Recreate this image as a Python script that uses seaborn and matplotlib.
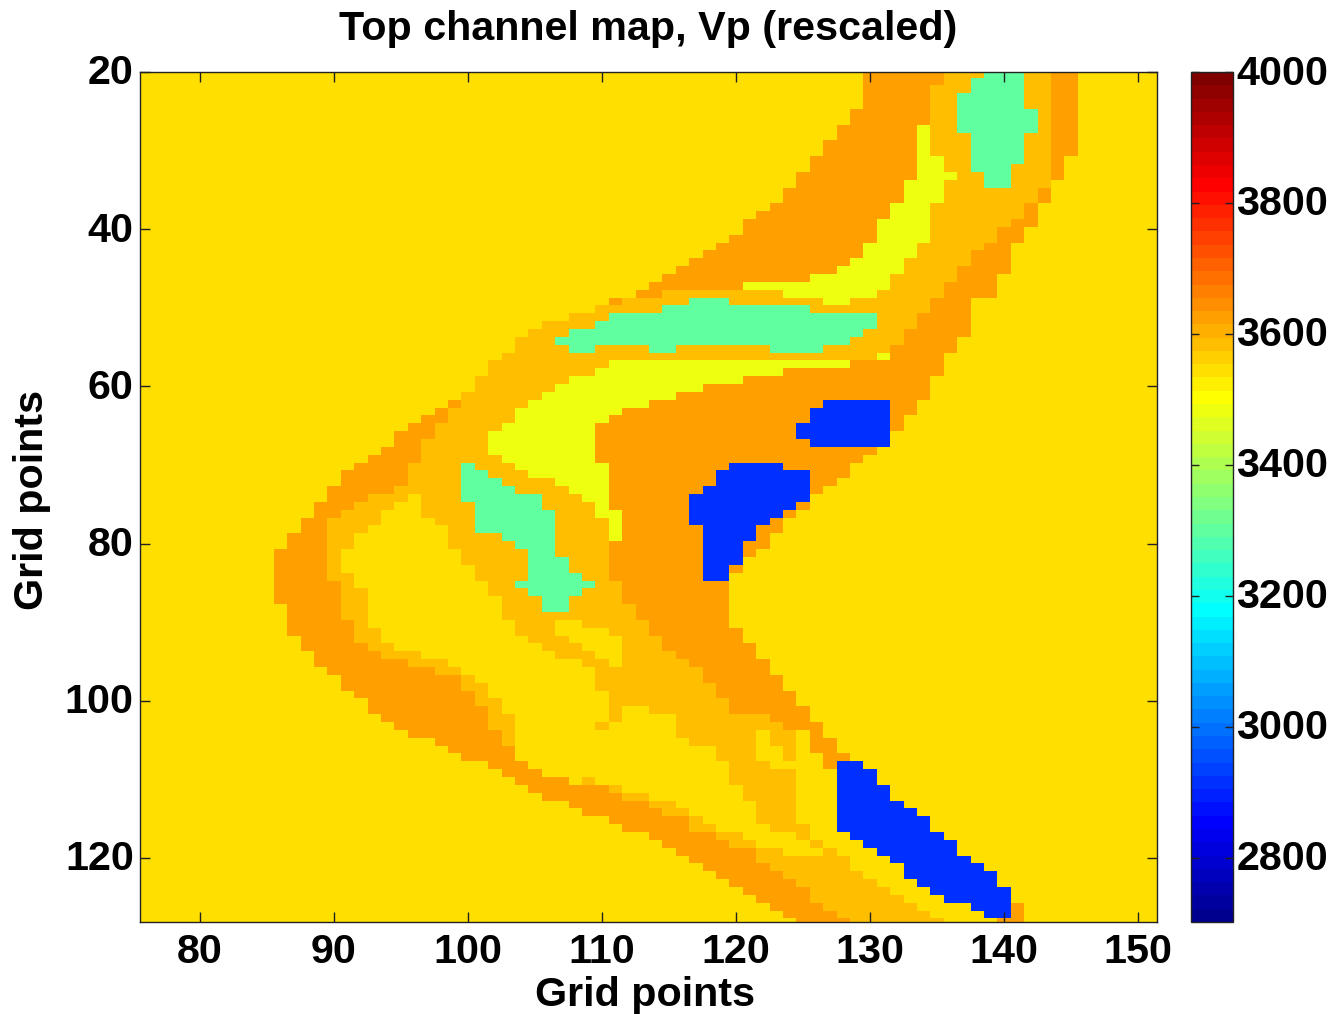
import numpy as np
import pandas as pd
import matplotlib
matplotlib.use("Agg")
import matplotlib.pyplot as plt
from matplotlib.colors import ListedColormap
from matplotlib.transforms import ScaledTranslation
import seaborn as sns

TITLE = "Top channel map, Vp (rescaled)"
XLABEL = "Grid points"
YLABEL = "Grid points"
X_TICKS = [80, 90, 100, 110, 120, 130, 140, 150]
Y_TICKS = [20, 40, 60, 80, 100, 120]
CBAR_TICKS = [2800, 3000, 3200, 3400, 3600, 3800, 4000]
VMIN, VMAX = 2702, 4000

# velocity classes seen on the map
LEVELS = {"Y": 3545, "L": 3585, "O": 3625, "G": 3485, "T": 3305, "B": 2918}
FIRST_COL, LAST_COL = 76, 151
FIRST_ROW = 20

# each row, left to right: class + last column of that run; the rest of the row is background
ROW_RUNS = [
    "Y129 O135 L138 T141 L143 O145",
    "Y129 O135 L137 T141 L143 O145",
    "Y129 O134 L137 T141 L143 O145",
    "Y129 O134 L136 T141 L143 O145",
    "Y129 O134 L136 T141 L143 O145",
    "Y128 O134 L136 T142 L143 O145",
    "Y128 O134 L136 T142 L143 O145",
    "Y127 O133 G134 L136 T142 L143 O145",
    "Y127 O133 G134 L137 T141 L143 O145",
    "Y126 O133 G134 L137 T141 L143 O145",
    "Y126 O133 G134 L137 T141 L143 O145",
    "Y125 O133 G135 L137 T141 L143 O144",
    "Y125 O133 G135 L137 T140 L143 O144",
    "Y124 O133 G136 L138 T140 L143 O144",
    "Y124 O132 G135 L138 T140 L143",
    "Y123 O132 G135 L142 O143",
    "Y123 O132 G135 L142 O143",
    "Y122 O131 G134 L141 O142",
    "Y121 O131 G134 L141 O142",
    "Y120 O130 G134 L140 O142",
    "Y120 O130 G134 L139 O141",
    "Y119 O130 G134 L139 O141",
    "Y118 O129 G133 L138 O140",
    "Y117 O129 G133 L137 O140",
    "Y116 O128 G132 L137 O140",
    "Y115 O127 G132 L136 O140",
    "Y114 O125 G131 L136 O139",
    "Y113 O120 G131 L135 O139",
    "Y112 O114 L123 G130 L135 O139",
    "Y110 O111 L116 T119 L126 G128 L134 O137",
    "Y109 L114 T125 L134 O137",
    "Y107 L110 T130 L133 O137",
    "Y105 L109 T130 L133 O137",
    "Y104 L107 T129 L132 O137",
    "Y103 L106 T128 L132 O136",
    "Y103 L107 T109 L113 T115 L122 T126 L131 O136",
    "Y102 L130 G131 O135",
    "Y101 L110 G128 O135",
    "Y101 L109 G123 O135",
    "Y100 L107 G120 O134",
    "Y100 L106 G117 O134",
    "Y99 L105 G115 O134",
    "Y98 O99 L104 G113 O126 B131 O133",
    "Y97 O98 L103 G111 O125 B131 O133",
    "Y96 O98 L103 G110 O125 B131 O132",
    "Y95 O97 L102 G109 O124 B131 O132",
    "Y94 O97 L101 G109 O124 B131",
    "Y94 O96 L101 G109 O125 B131",
    "Y93 O96 L101 G109 O130",
    "Y92 O96 L102 G109 O129",
    "Y91 O95 L99 T100 L103 G110 O119 B123 O128",
    "Y90 O95 L99 T101 L104 G110 O118 B125 O128",
    "Y90 O95 L99 T102 L106 G110 O118 B125 O127",
    "Y89 O94 L99 T103 L107 G110 O117 B125 O126",
    "Y89 O92 L95 Y96 L99 T105 L108 G110 O116 B125",
    "Y88 O91 L94 Y96 L100 T105 L109 G110 O116 B124 O125",
    "Y88 O90 L93 Y96 L100 T106 L109 G111 O116 B123 O124",
    "Y87 O89 L93 Y97 L100 T106 L110 G111 O116 B122 O123",
    "Y87 O89 L92 Y98 L100 T106 L110 G111 O117 B121 O123",
    "Y86 O89 L91 Y98 L102 T106 L110 G111 O117 B121 O122",
    "Y86 O89 L91 Y98 L103 T106 L110 O117 B120 O122",
    "Y85 O89 L90 Y99 L104 T106 L110 O117 B120 O121",
    "Y85 O89 L90 Y99 L104 T107 L110 O117 B120",
    "Y85 O89 L90 Y100 L104 T107 L110 O117 B119 O120",
    "Y85 O89 L91 Y100 L104 T108 L110 O117 B119",
    "Y85 O90 L91 Y101 L103 T109 L111 O119",
    "Y85 O90 L92 Y101 L104 T108 L111 O119",
    "Y85 O90 L92 Y102 L105 T107 L111 O119",
    "Y86 O90 L92 Y102 L105 T107 L112 O119",
    "Y86 O90 L92 Y102 L112 O119",
    "Y86 O91 L92 Y103 L106 Y108 L113 O119",
    "Y86 O91 L93 Y103 L106 Y110 L113 O120",
    "Y87 O91 L93 Y104 L107 Y111 L114 O120",
    "Y87 O92 L94 Y105 L108 Y111 L114 O121",
    "Y88 O93 L96 Y106 L109 Y111 L115 O121",
    "Y88 O95 L98 Y108 L110 Y111 L116 O122",
    "Y89 O97 L99 Y109 L117 O122",
    "Y90 O99 L100 Y109 L117 O123",
    "Y90 O99 L101 Y109 L118 O123",
    "Y91 O100 L101 Y110 L118 O124",
    "Y92 O100 L102 Y110 L119 O124",
    "Y92 O101 L102 Y110 L111 Y113 L119 O125",
    "Y93 O101 L103 Y110 L111 Y115 L122 O125",
    "Y94 O101 L103 Y109 L110 Y115 L123 O126",
    "Y95 O102 L103 Y115 L121 Y122 L124 Y125 O126",
    "Y97 O102 L103 Y116 L121 Y122 L124 Y125 O127",
    "Y98 O103 Y118 L121 Y123 L124 Y125 O127",
    "Y99 O103 Y118 L121 Y123 L124 Y126 O128",
    "Y101 O104 Y119 L122 Y126 O127 B129",
    "Y102 O105 Y119 L124 Y127 B130",
    "Y103 O107 Y108 L109 Y119 L124 Y127 B130",
    "Y104 O110 L111 Y120 L124 Y127 B131",
    "Y105 O111 L113 Y120 L124 Y127 B131",
    "Y107 O113 L115 Y121 L124 Y127 B132",
    "Y108 O114 L116 Y121 L124 Y127 B133",
    "Y110 O116 L117 Y121 L124 Y127 B134",
    "Y111 O116 L118 Y122 L125 Y127 B134",
    "Y113 O118 L120 Y124 L125 Y128 B135",
    "Y114 O119 L121 Y125 L126 Y129 B136",
    "Y115 O121 L123 Y126 L127 Y130 B136",
    "Y116 O121 L128 Y131 B137",
    "Y117 O122 L128 Y132 B138",
    "Y118 O123 L129 Y132 B139",
    "Y119 O124 L130 Y133 B139",
    "Y120 O125 L131 Y134 B140",
    "Y121 O125 L132 Y135 B140",
    "Y122 O126 L133 Y137 B140 O141",
    "Y123 O127 L134 Y138 B140 O141",
    "Y124 O128 L135 Y139 O141",
]


def matlab_jet(n=64):
    i = np.arange(1, n + 1)
    r = np.clip(np.minimum((i - 24) / 16, (72 - i) / 16), 0, 1)
    g = np.clip(np.minimum((i - 8) / 16, (56 - i) / 16), 0, 1)
    b = np.clip(np.minimum((i + 8) / 16, (40 - i) / 16), 0, 1)
    return ListedColormap(np.column_stack([r, g, b]))


columns = np.arange(FIRST_COL, LAST_COL + 1)
rows = np.arange(FIRST_ROW, FIRST_ROW + len(ROW_RUNS))
grid = np.full((len(rows), len(columns)), float(LEVELS["Y"]))
for r, spec in enumerate(ROW_RUNS):
    start = FIRST_COL
    for run in spec.split():
        last = int(run[1:])
        grid[r, start - FIRST_COL:last - FIRST_COL + 1] = LEVELS[run[0]]
        start = last + 1
frame = pd.DataFrame(grid, index=rows, columns=columns)

W, H = 1332, 1014
sns.set_theme(style="white")
plt.rcParams["font.family"] = ["Liberation Sans", "DejaVu Sans"]
plt.rcParams["font.weight"] = "bold"
plt.rcParams["axes.axisbelow"] = False

fig = plt.figure(figsize=(W / 100, H / 100), dpi=100, facecolor="white")


def box(l, t, r, b):
    return [l / W, 1 - b / H, (r - l) / W, (b - t) / H]


ax = fig.add_axes(box(140, 72, 1157.5, 922))
cax = fig.add_axes(box(1191, 72, 1233, 922))

sns.heatmap(frame, ax=ax, cbar_ax=cax, cmap=matlab_jet(), vmin=VMIN, vmax=VMAX,
            xticklabels=False, yticklabels=False)
ax.set_axisbelow(False)
cax.set_axisbelow(False)

FS = 29.7
# heatmap cells sit at 0..N: translate grid-point values to cell coordinates
x_off = FIRST_COL - 0.5
y_off = FIRST_ROW - 0.3
ax.set_xlim(75.52 - x_off, 151.45 - x_off)
ax.set_ylim(128.15 - y_off, 20 - y_off)
ax.set_xticks([v - x_off for v in X_TICKS], [str(v) for v in X_TICKS])
ax.set_yticks([v - y_off for v in Y_TICKS], [str(v) for v in Y_TICKS])
ax.tick_params(axis="both", direction="in", length=7.5, width=1, color="#222222",
               top=True, right=True, bottom=True, left=True, labelsize=FS,
               labelcolor="black")
ax.tick_params(axis="x", pad=8)
ax.tick_params(axis="y", labelrotation=0, pad=4.5)
for lab in ax.get_xticklabels() + ax.get_yticklabels():
    lab.set_fontweight("bold")
for s in ax.spines.values():
    s.set_visible(True)
    s.set_linewidth(1)
    s.set_color("#222222")

ax.set_xlabel("")
ax.set_ylabel("")
fig.text(645 / W, 1 - 995 / H, XLABEL, ha="center", va="center", fontsize=FS, fontweight="bold", color="black")
fig.text(32 / W, 1 - 500 / H, YLABEL, ha="center", va="center", rotation=90, fontsize=FS, fontweight="bold", color="black")
fig.text(648 / W, 1 - 29 / H, TITLE, ha="center", va="center", fontsize=FS, fontweight="bold", color="black")

cbar = ax.collections[0].colorbar
cbar.set_ticks(CBAR_TICKS)
cbar.set_ticklabels([str(v) for v in CBAR_TICKS])
cbar.outline.set_visible(True)
cbar.outline.set_linewidth(1)
cbar.outline.set_edgecolor("#222222")
cax.tick_params(axis="y", direction="in", length=6, width=1, color="#222222",
                left=True, right=True, labelleft=False, labelright=True,
                labelsize=FS, labelcolor="black", pad=2.5)
for lab in cax.get_yticklabels():
    lab.set_fontweight("bold")

# nudge the vertical-axis labels up to sit level with their ticks
nudge = ScaledTranslation(0, 2.5 / 100, fig.dpi_scale_trans)
for lab in ax.get_yticklabels() + cax.get_yticklabels():
    lab.set_transform(lab.get_transform() + nudge)

fig.savefig("out.png", dpi=100, facecolor="white")
